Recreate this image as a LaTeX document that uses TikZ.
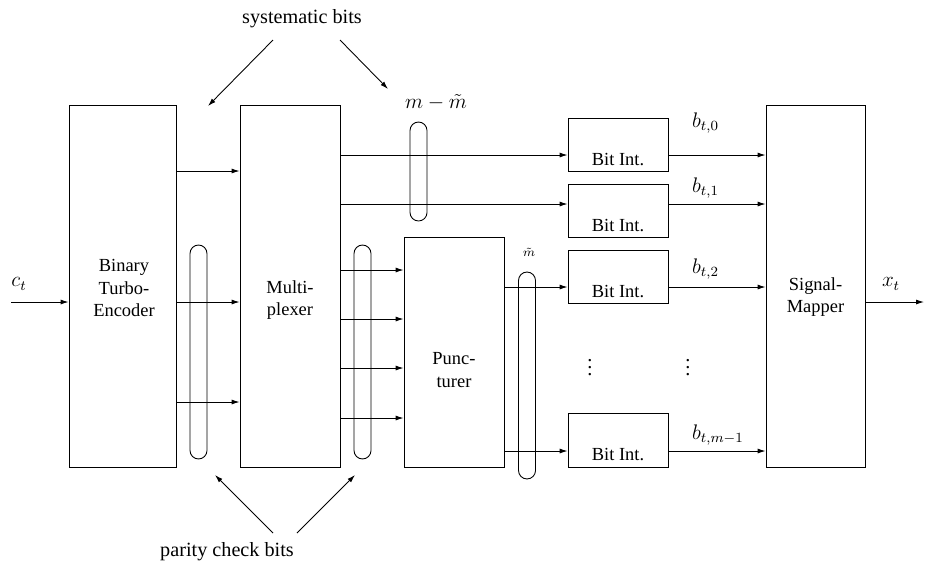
\documentclass[tikz,border=0pt]{standalone}
\usepackage{fontspec}
\setmainfont{Liberation Serif}
\usetikzlibrary{arrows.meta, positioning}

\tikzset{
  blk/.style={draw, line width=0.5pt, inner sep=0pt},
  bitbox/.style={blk, minimum width=2cm, minimum height=1.07cm,
    label={[anchor=base, yshift=4pt, font=\fontsize{10.5}{12.8}\selectfont]south:Bit Int.}},
  grp/.style={draw, line width=0.5pt, rounded corners=0.17cm, minimum width=0.34cm, inner sep=0pt},
  arr/.style={-{Latex[length=4.5pt,width=2.8pt]}, line width=0.5pt},
  txt/.style={align=center, font=\fontsize{10.5}{12.8}\selectfont},
  lbl/.style={font=\fontsize{11.5}{13}\selectfont},
}

\begin{document}
\begin{tikzpicture}[x=0.02cm, y=-0.02cm]
    \useasboundingbox (0,0) rectangle (925,566);
    % main blocks
    \node[blk, minimum width=2.14cm, minimum height=7.24cm] (enc) at (122.5,286) {};
    \node[blk, minimum width=2cm, minimum height=7.24cm] (mux) at (290,286) {};
    \node[blk, minimum width=2cm, minimum height=4.6cm] (punc) at (454,352) {};
    \node[blk, minimum width=1.98cm, minimum height=7.24cm] (map) at (815.5,286) {};
    \node[txt] (enct) at (124,288) {Binary\\Turbo-\\Encoder};
    \node[txt] (muxt) at (290,300) {Multi-\\plexer};
    \node[txt] (punct) at (454,370) {Punc-\\turer};
    \node[txt] (mapt) at (815.5,297) {Signal-\\Mapper};
    % bit interleavers
    \foreach \i/\yc in {0/145, 1/211, 2/277, 3/440.5} {
        \node[bitbox] (bi\i) at (618,\yc) {};
    }
    \node[lbl] (dotsA) at (590,362) {$\vdots$};
    \node[lbl] (dotsB) at (688,362) {$\vdots$};
    % groupings
    \node[grp, minimum height=4.28cm] (grpA) at (198.5,352) {};
    \node[grp, minimum height=1.98cm] (grpB) at (418.5,171.5) {};
    \node[grp, minimum height=4.28cm] (grpC) at (362.5,352) {};
    \node[grp, minimum height=4.14cm] (grpD) at (527,375.5) {};
    % connections
    \coordinate (cin) at (11,302);
    \coordinate (xout) at (924,302);
    \draw[arr] (cin) -- (enc.west |- cin);
    \draw[arr] (map.east |- xout) -- (xout);
    \foreach \y in {171, 302, 402} {
        \draw[arr] (enc.east |- 0,\y) -- (mux.west |- 0,\y);
    }
    \foreach \y in {270, 319, 368, 418} {
        \draw[arr] (mux.east |- 0,\y) -- (punc.west |- 0,\y);
    }
    \draw[arr] (mux.east |- 0,155) -- (bi0.west |- 0,155);
    \draw[arr] (mux.east |- 0,204) -- (bi1.west |- 0,204);
    \draw[arr] (punc.east |- 0,287) -- (bi2.west |- 0,287);
    \draw[arr] (punc.east |- 0,451) -- (bi3.west |- 0,451);
    \foreach \i/\y in {0/155, 1/204, 2/287, 3/451} {
        \draw[arr] (bi\i.east |- 0,\y) -- (map.west |- 0,\y);
    }
    % labels
    \node[lbl] (ct) at (19,284) {$c_t$};
    \node[lbl] (xt) at (891,284) {$x_t$};
    \node[lbl, anchor=west] (b0) at (686,123) {$b_{t,0}$};
    \node[lbl, anchor=west] (b1) at (686,188) {$b_{t,1}$};
    \node[lbl, anchor=west] (b2) at (686,269) {$b_{t,2}$};
    \node[lbl, anchor=west] (bm) at (686,435) {$b_{t,m-1}$};
    \node[lbl] (mdiff) at (436,102) {$m-\tilde{m}$};
    \node[font=\fontsize{7}{8}\selectfont] (mtil) at (529,252) {$\tilde{m}$};
    % systematic / parity annotations
    \node[font=\fontsize{11.5}{13}\selectfont] (sys) at (302,19) {systematic bits};
    \node[font=\fontsize{11.5}{13}\selectfont] (par) at (227,552) {parity check bits};
    \coordinate (sysA) at (208,106);
    \coordinate (sysB) at (388,89);
    \coordinate (parA) at (215,475);
    \coordinate (parB) at (355,475);
    \draw[arr] (273,40) -- (sysA);
    \draw[arr] (340,40) -- (sysB);
    \draw[arr] (273,533) -- (parA);
    \draw[arr] (297,533) -- (parB);
\end{tikzpicture}
\end{document}
